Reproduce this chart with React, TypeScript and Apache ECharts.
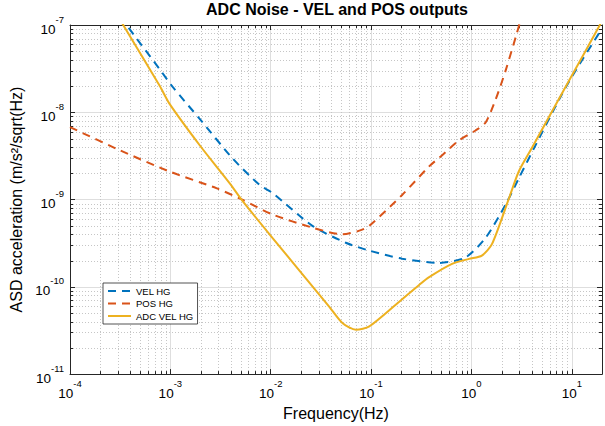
import React, { useEffect, useRef } from 'react';
import * as echarts from 'echarts';

const TITLE = 'ADC Noise - VEL and POS outputs';
const X_NAME = 'Frequency(Hz)';
const Y_NAME = 'ASD acceleration (m/s²/sqrt(Hz)';
const SERIES_NAMES = ['VEL HG', 'POS HG', 'ADC VEL HG'];
const COLORS = ['#0072BD', '#D95319', '#EDB120'];
const FONT = '"Liberation Sans", Arial, Helvetica, sans-serif';

const X_MIN = 1e-4;
const X_MAX = 20;
const Y_MIN = 1e-11;
const Y_MAX = 1e-7;

// minor tick positions (2..9 within each decade)
const MINOR_MULTS = [2, 3, 4, 5, 6, 7, 8, 9];
const X_DECADES = [1e-4, 1e-3, 1e-2, 1e-1, 1e0];
const Y_DECADES = [1e-11, 1e-10, 1e-9, 1e-8];

// VEL HG
const velFreq = [3.2e-4, 3.66e-4, 7.85e-4, 1.06e-3, 1.96e-3, 4.17e-3, 7.74e-3, 1.04e-2, 2.6e-2, 5.6e-2, 9.6e-2, 0.204, 0.476, 0.877, 1.39, 2.19, 2.97, 4.35, 7.43, 10, 19, 20];
const velAsd = [1.25e-7, 1e-7, 3.1e-8, 1.94e-8, 8.4e-9, 2.96e-9, 1.47e-9, 1.19e-9, 5.0e-10, 3.2e-10, 2.6e-10, 2.1e-10, 1.88e-10, 2.18e-10, 3.67e-10, 8.75e-10, 1.76e-9, 4.19e-9, 1.38e-8, 2.55e-8, 8.3e-8, 9.0e-8];

// POS HG
const posFreq = [1e-4, 3.14e-4, 9.86e-4, 2.87e-3, 5.21e-3, 1.04e-2, 2.6e-2, 5.18e-2, 7.64e-2, 9.6e-2, 0.204, 0.379, 0.511, 0.753, 1.1, 1.39, 1.75, 2.21, 2.84, 3.1];
const posAsd = [6.76e-9, 3.67e-9, 2.09e-9, 1.35e-9, 9.97e-10, 6.75e-10, 4.77e-10, 4.0e-10, 4.4e-10, 5.0e-10, 1.13e-9, 2.4e-9, 3.22e-9, 4.77e-9, 6.19e-9, 7.7e-9, 1.42e-8, 3.1e-8, 8.1e-8, 1.15e-7];

// ADC VEL HG
const adcFreq = [3.16e-4, 3.39e-4, 7.85e-4, 9.86e-4, 1.96e-3, 3.89e-3, 5.21e-3, 9.73e-3, 3.84e-2, 5.21e-2, 7.08e-2, 9.6e-2, 0.191, 0.301, 0.379, 0.641, 0.946, 1.27, 1.6, 2.37, 2.97, 4.0, 6.89, 9.77, 18.5, 20];
const adcAsd = [1.15e-7, 1e-7, 2.0e-8, 1.24e-8, 4.19e-9, 1.54e-9, 9.7e-10, 4.0e-10, 5.9e-11, 3.83e-11, 3.23e-11, 3.52e-11, 6.75e-11, 1.05e-10, 1.29e-10, 1.83e-10, 2.09e-10, 2.28e-10, 3.08e-10, 1.04e-9, 2.11e-9, 3.9e-9, 1.21e-8, 2.5e-8, 9.4e-8, 1.12e-7];

const xMinorTicks: number[] = [];
X_DECADES.forEach((d) => MINOR_MULTS.forEach((m) => xMinorTicks.push(m * d)));
const yMinorTicks: number[] = [];
Y_DECADES.forEach((d) => MINOR_MULTS.forEach((m) => yMinorTicks.push(m * d)));

const AXIS_COLOR = '#262626';
const MAJOR_GRID = '#dedede';
const MINOR_GRID = '#c6c6c6';

const zip = (a: number[], b: number[]) => a.map((v, i) => [v, b[i]]);

const powLabel = (v: number) => {
  const l = Math.log10(v);
  const e = Math.round(l);
  if (Math.abs(l - e) > 1e-6) return '';
  return `{b|10}{s|${e}}`;
};

const richLabel = {
  b: { fontSize: 13.5, lineHeight: 22, verticalAlign: 'bottom', fontFamily: FONT, color: '#000' },
  s: { fontSize: 9.5, lineHeight: 9, verticalAlign: 'top', fontFamily: FONT, color: '#000' },
};

export default function App() {
  const ref = useRef<HTMLDivElement>(null);
  useEffect(() => {
    document.body.style.margin = '0';
    if (!ref.current) return;
    const chart = echarts.init(ref.current, undefined, { renderer: 'svg' });

    const lineSeries = [
      { name: SERIES_NAMES[0], data: zip(velFreq, velAsd), color: COLORS[0], dash: [8, 6] as any },
      { name: SERIES_NAMES[1], data: zip(posFreq, posAsd), color: COLORS[1], dash: [8, 6] as any },
      { name: SERIES_NAMES[2], data: zip(adcFreq, adcAsd), color: COLORS[2], dash: 'solid' as any },
    ].map((s) => ({
      type: 'line',
      name: s.name,
      data: s.data,
      symbol: 'none',
      showSymbol: false,
      smooth: 0.25,
      clip: true,
      z: 3,
      color: s.color,
      itemStyle: { color: s.color },
      lineStyle: { color: s.color, width: 2, type: s.dash },
    }));

    const minorX = {
      type: 'custom',
      name: 'minorX',
      silent: true,
      z: 1,
      data: xMinorTicks.map((v) => [v, Y_MIN]),
      renderItem: (params: any, api: any) => {
        const cs = params.coordSys;
        const px = Math.round(api.coord([api.value(0), Y_MIN])[0]) + 0.5;
        const top = cs.y;
        const bot = cs.y + cs.height;
        return {
          type: 'group',
          children: [
            { type: 'line', shape: { x1: px, y1: top, x2: px, y2: bot }, style: { stroke: MINOR_GRID, lineWidth: 1, lineDash: [1, 2] } },
            { type: 'line', shape: { x1: px, y1: bot, x2: px, y2: bot - 3 }, style: { stroke: AXIS_COLOR, lineWidth: 1 } },
            { type: 'line', shape: { x1: px, y1: top, x2: px, y2: top + 3 }, style: { stroke: AXIS_COLOR, lineWidth: 1 } },
          ],
        };
      },
    };

    const minorY = {
      type: 'custom',
      name: 'minorY',
      silent: true,
      z: 1,
      data: yMinorTicks.map((v) => [1, v]),
      renderItem: (params: any, api: any) => {
        const cs = params.coordSys;
        const py = Math.round(api.coord([1, api.value(1)])[1]) + 0.5;
        const left = cs.x;
        const right = cs.x + cs.width;
        return {
          type: 'group',
          children: [
            { type: 'line', shape: { x1: left, y1: py, x2: right, y2: py }, style: { stroke: MINOR_GRID, lineWidth: 1, lineDash: [1, 2] } },
            { type: 'line', shape: { x1: left, y1: py, x2: left + 3, y2: py }, style: { stroke: AXIS_COLOR, lineWidth: 1 } },
            { type: 'line', shape: { x1: right, y1: py, x2: right - 3, y2: py }, style: { stroke: AXIS_COLOR, lineWidth: 1 } },
          ],
        };
      },
    };

    const baseX = {
      type: 'log',
      logBase: 10,
      min: X_MIN,
      max: X_MAX,
      axisLine: { show: true, onZero: false, lineStyle: { color: AXIS_COLOR, width: 1 } },
      axisTick: { show: true, inside: true, length: 5, lineStyle: { color: AXIS_COLOR, width: 1 } },
    };
    const baseY = {
      type: 'log',
      logBase: 10,
      min: Y_MIN,
      max: Y_MAX,
      axisLine: { show: true, onZero: false, lineStyle: { color: AXIS_COLOR, width: 1 } },
      axisTick: { show: true, inside: true, length: 5, lineStyle: { color: AXIS_COLOR, width: 1 } },
    };

    chart.setOption({
      animation: false,
      backgroundColor: '#fff',
      textStyle: { fontFamily: FONT },
      title: {
        text: TITLE,
        left: 337,
        top: 1,
        textAlign: 'center',
        padding: 0,
        textStyle: { fontSize: 16, fontWeight: 'bold', color: '#000', fontFamily: FONT },
      },
      legend: {
        data: SERIES_NAMES,
        left: 103,
        top: 283,
        orient: 'vertical',
        padding: [3, 4, 3, 4],
        itemGap: 2.5,
        itemWidth: 23,
        itemHeight: 10,
        backgroundColor: '#fff',
        borderColor: AXIS_COLOR,
        borderWidth: 0.8,
        borderRadius: 0,
        itemStyle: { opacity: 0, borderWidth: 0 },
        textStyle: { fontSize: 9.5, color: '#000', fontFamily: FONT },
      },
      grid: { left: 70, right: 2, top: 25, bottom: 48, containLabel: false },
      xAxis: [
        {
          ...baseX,
          position: 'bottom',
          name: X_NAME,
          nameLocation: 'middle',
          nameGap: 26,
          nameTextStyle: { fontSize: 16, color: '#000', fontFamily: FONT },
          axisLabel: { margin: 4, formatter: powLabel, rich: richLabel, hideOverlap: false },
          splitLine: { show: true, lineStyle: { color: MAJOR_GRID, width: 1 } },
        },
        {
          ...baseX,
          position: 'top',
          axisLabel: { show: false },
          splitLine: { show: false },
        },
      ],
      yAxis: [
        {
          ...baseY,
          position: 'left',
          name: Y_NAME,
          nameLocation: 'middle',
          nameGap: 44,
          nameTextStyle: { fontSize: 16, color: '#000', fontFamily: FONT },
          axisLabel: { margin: 6, formatter: powLabel, rich: richLabel, hideOverlap: false },
          splitLine: { show: true, lineStyle: { color: MAJOR_GRID, width: 1 } },
        },
        {
          ...baseY,
          position: 'right',
          axisLabel: { show: false },
          splitLine: { show: false },
        },
      ],
      series: [minorX, minorY, ...lineSeries],
    });
    return () => chart.dispose();
  }, []);
  return <div ref={ref} style={{ position: 'absolute', left: 0, top: 0, width: 605, height: 426 }} />;
}
